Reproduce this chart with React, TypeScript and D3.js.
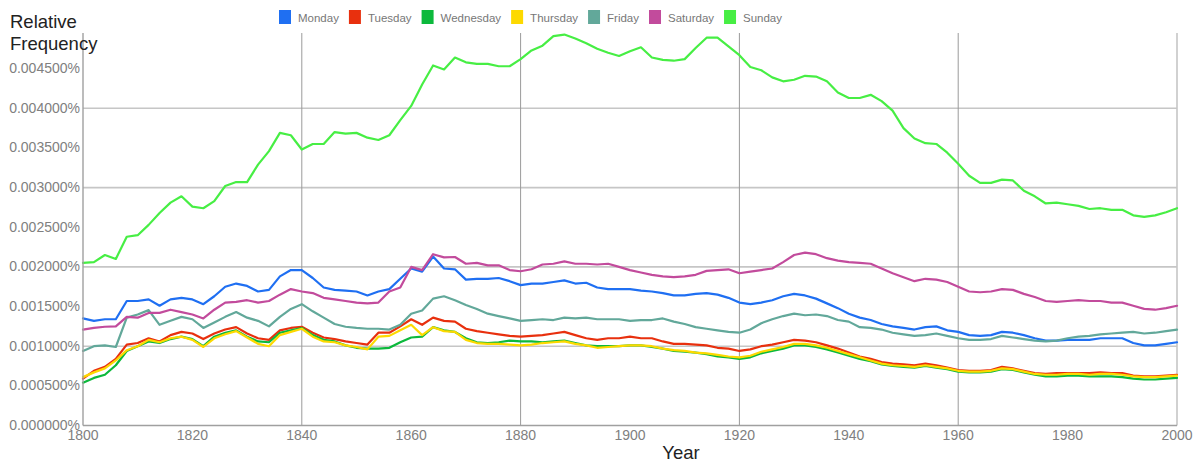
import React from "react";
import * as d3 from "d3";

// Years (every 2 years)
const years: number[] = [
  1800, 1802, 1804, 1806, 1808, 1810, 1812, 1814, 1816, 1818,
  1820, 1822, 1824, 1826, 1828, 1830, 1832, 1834, 1836, 1838,
  1840, 1842, 1844, 1846, 1848, 1850, 1852, 1854, 1856, 1858,
  1860, 1862, 1864, 1866, 1868, 1870, 1872, 1874, 1876, 1878,
  1880, 1882, 1884, 1886, 1888, 1890, 1892, 1894, 1896, 1898,
  1900, 1902, 1904, 1906, 1908, 1910, 1912, 1914, 1916, 1918,
  1920, 1922, 1924, 1926, 1928, 1930, 1932, 1934, 1936, 1938,
  1940, 1942, 1944, 1946, 1948, 1950, 1952, 1954, 1956, 1958,
  1960, 1962, 1964, 1966, 1968, 1970, 1972, 1974, 1976, 1978,
  1980, 1982, 1984, 1986, 1988, 1990, 1992, 1994, 1996, 1998,
  2000,
];

// Values in thousandths of a percent (1.35 => 0.001350%)
const monday: number[] = [
  1.35, 1.32, 1.34, 1.34, 1.57, 1.57, 1.59, 1.51, 1.59, 1.61,
  1.59, 1.53, 1.63, 1.75, 1.79, 1.76, 1.69, 1.71, 1.88, 1.96,
  1.96, 1.86, 1.74, 1.71, 1.70, 1.69, 1.64, 1.69, 1.72, 1.85,
  1.98, 1.94, 2.13, 1.98, 1.97, 1.84, 1.85, 1.85, 1.86, 1.82,
  1.77, 1.79, 1.79, 1.81, 1.83, 1.79, 1.80, 1.74, 1.72, 1.72,
  1.72, 1.70, 1.69, 1.67, 1.64, 1.64, 1.66, 1.67, 1.65, 1.61,
  1.55, 1.53, 1.55, 1.58, 1.63, 1.66, 1.64, 1.60, 1.54, 1.48,
  1.41, 1.36, 1.33, 1.28, 1.25, 1.23, 1.21, 1.24, 1.25, 1.20,
  1.18, 1.14, 1.13, 1.14, 1.18, 1.17, 1.14, 1.10, 1.07, 1.07,
  1.08, 1.08, 1.08, 1.10, 1.10, 1.10, 1.04, 1.01, 1.01, 1.03,
  1.05,
];
const tuesday: number[] = [
  0.59, 0.69, 0.74, 0.84, 1.02, 1.04, 1.10, 1.06, 1.14, 1.18,
  1.16, 1.09, 1.16, 1.21, 1.24, 1.16, 1.10, 1.08, 1.20, 1.23,
  1.245, 1.17, 1.11, 1.09, 1.06, 1.04, 1.02, 1.17, 1.17, 1.25,
  1.34, 1.27, 1.36, 1.32, 1.31, 1.22, 1.19, 1.17, 1.15, 1.13,
  1.12, 1.13, 1.14, 1.16, 1.18, 1.14, 1.10, 1.08, 1.10, 1.10,
  1.12, 1.10, 1.10, 1.06, 1.03, 1.03, 1.02, 1.01, 0.98, 0.97,
  0.94, 0.96, 1.00, 1.02, 1.05, 1.08, 1.07, 1.05, 1.01, 0.97,
  0.92, 0.87, 0.84, 0.80, 0.78, 0.77, 0.76, 0.78, 0.76, 0.73,
  0.70, 0.69, 0.69, 0.70, 0.74, 0.72, 0.69, 0.66, 0.65, 0.66,
  0.66, 0.66, 0.66, 0.67, 0.66, 0.66, 0.63, 0.62, 0.62, 0.63,
  0.64,
];
const wednesday: number[] = [
  0.54, 0.60, 0.64, 0.76, 0.94, 1.00, 1.06, 1.04, 1.09, 1.12,
  1.09, 1.00, 1.12, 1.17, 1.20, 1.12, 1.06, 1.05, 1.17, 1.20,
  1.23, 1.14, 1.08, 1.06, 1.01, 0.98, 0.97, 0.97, 0.98, 1.05,
  1.11, 1.12, 1.24, 1.20, 1.18, 1.10, 1.05, 1.04, 1.05, 1.07,
  1.06, 1.06, 1.05, 1.06, 1.07, 1.04, 1.01, 1.00, 1.00, 1.00,
  1.01, 1.01, 0.99, 0.97, 0.94, 0.93, 0.92, 0.90, 0.87, 0.86,
  0.84, 0.86, 0.91, 0.94, 0.97, 1.01, 1.01, 0.99, 0.96, 0.92,
  0.88, 0.84, 0.81, 0.77, 0.75, 0.74, 0.73, 0.75, 0.73, 0.71,
  0.68, 0.67, 0.67, 0.68, 0.71, 0.70, 0.67, 0.64, 0.62, 0.62,
  0.63, 0.63, 0.62, 0.62, 0.62, 0.61, 0.59, 0.58, 0.58, 0.59,
  0.60,
];
const thursday: number[] = [
  0.61, 0.67, 0.72, 0.82, 0.95, 1.00, 1.08, 1.05, 1.10, 1.12,
  1.08, 0.99, 1.10, 1.15, 1.19, 1.11, 1.03, 1.00, 1.14, 1.18,
  1.22, 1.12, 1.06, 1.05, 1.01, 0.99, 0.96, 1.12, 1.13, 1.20,
  1.27, 1.14, 1.24, 1.19, 1.18, 1.08, 1.04, 1.03, 1.03, 1.02,
  1.01, 1.02, 1.04, 1.05, 1.06, 1.03, 1.01, 0.98, 0.99, 1.00,
  1.01, 1.01, 1.00, 0.97, 0.95, 0.94, 0.92, 0.91, 0.89, 0.87,
  0.86, 0.88, 0.93, 0.96, 0.99, 1.03, 1.03, 1.01, 0.98, 0.94,
  0.90, 0.86, 0.82, 0.78, 0.76, 0.75, 0.74, 0.76, 0.74, 0.72,
  0.69, 0.68, 0.68, 0.69, 0.72, 0.71, 0.68, 0.65, 0.64, 0.64,
  0.65, 0.65, 0.64, 0.65, 0.65, 0.64, 0.62, 0.61, 0.61, 0.62,
  0.63,
];
const friday: number[] = [
  0.94, 1.00, 1.01, 0.99, 1.36, 1.40, 1.455, 1.27, 1.32, 1.37,
  1.34, 1.23, 1.30, 1.37, 1.43, 1.36, 1.32, 1.25, 1.37, 1.47,
  1.53, 1.44, 1.36, 1.28, 1.245, 1.23, 1.22, 1.22, 1.21, 1.27,
  1.41, 1.45, 1.60, 1.63, 1.58, 1.52, 1.47, 1.41, 1.38, 1.35,
  1.32, 1.33, 1.34, 1.33, 1.36, 1.35, 1.36, 1.34, 1.34, 1.34,
  1.32, 1.33, 1.33, 1.35, 1.31, 1.28, 1.24, 1.22, 1.20, 1.18,
  1.17, 1.21, 1.29, 1.34, 1.38, 1.41, 1.39, 1.40, 1.38, 1.33,
  1.31, 1.24, 1.23, 1.21, 1.17, 1.15, 1.13, 1.14, 1.16, 1.13,
  1.10, 1.08, 1.08, 1.09, 1.13, 1.11, 1.09, 1.07, 1.06, 1.07,
  1.10, 1.12, 1.13, 1.15, 1.16, 1.17, 1.18, 1.16, 1.17, 1.19,
  1.21,
];
const saturday: number[] = [
  1.21, 1.23, 1.245, 1.25, 1.37, 1.36, 1.42, 1.42, 1.46, 1.43,
  1.40, 1.35, 1.46, 1.55, 1.56, 1.58, 1.55, 1.57, 1.65, 1.72,
  1.69, 1.67, 1.61, 1.59, 1.57, 1.55, 1.54, 1.55, 1.69, 1.74,
  2.00, 1.96, 2.16, 2.12, 2.125, 2.04, 2.05, 2.02, 2.02, 1.96,
  1.945, 1.97, 2.03, 2.04, 2.07, 2.04, 2.04, 2.03, 2.04, 2.00,
  1.96, 1.93, 1.90, 1.88, 1.87, 1.88, 1.90, 1.95, 1.96, 1.97,
  1.92, 1.94, 1.96, 1.98, 2.06, 2.15, 2.18, 2.16, 2.11, 2.08,
  2.06, 2.05, 2.04, 1.98, 1.92, 1.87, 1.82, 1.85, 1.84, 1.81,
  1.75, 1.69, 1.68, 1.69, 1.72, 1.71, 1.66, 1.62, 1.57, 1.56,
  1.57, 1.58, 1.57, 1.57, 1.55, 1.55, 1.51, 1.47, 1.46, 1.48,
  1.51,
];
const sunday: number[] = [
  2.05, 2.06, 2.15, 2.10, 2.38, 2.40, 2.53, 2.68, 2.81, 2.89,
  2.76, 2.74, 2.83, 3.02, 3.07, 3.07, 3.29, 3.46, 3.69, 3.66,
  3.48, 3.55, 3.55, 3.70, 3.68, 3.69, 3.63, 3.60, 3.66, 3.85,
  4.03, 4.30, 4.54, 4.49, 4.64, 4.58, 4.56, 4.56, 4.53, 4.53,
  4.62, 4.73, 4.79, 4.91, 4.93, 4.88, 4.82, 4.75, 4.70, 4.66,
  4.72, 4.77, 4.64, 4.61, 4.60, 4.62, 4.76, 4.89, 4.89, 4.78,
  4.67, 4.52, 4.48, 4.39, 4.34, 4.36, 4.41, 4.40, 4.34, 4.20,
  4.13, 4.13, 4.17, 4.09, 3.97, 3.75, 3.62, 3.56, 3.55, 3.44,
  3.30, 3.15, 3.06, 3.06, 3.10, 3.09, 2.96, 2.89, 2.80, 2.81,
  2.79, 2.77, 2.73, 2.74, 2.72, 2.72, 2.65, 2.63, 2.65, 2.69,
  2.74,
];

const seriesNames: string[] = ["Monday", "Tuesday", "Wednesday", "Thursday", "Friday", "Saturday", "Sunday"];
const seriesValues: number[][] = [monday, tuesday, wednesday, thursday, friday, saturday, sunday];
const seriesColors: string[] = ["#1f6ff2", "#e8300e", "#0cb93c", "#fdd900", "#62a89a", "#c24b9c", "#47ee44"];

const yTicks: number[] = [0, 0.5, 1, 1.5, 2, 2.5, 3, 3.5, 4, 4.5];
const yGrid: number[] = [1, 2, 3, 4];
const xTicks: number[] = [1800, 1820, 1840, 1860, 1880, 1900, 1920, 1940, 1960, 1980, 2000];
const xGrid: number[] = [1840, 1880, 1920, 1960];

const W = 1197;
const H = 462;
const left = 83;
const right = 1177;
const bottom = 425.5;
const frameTop = 33;
const FONT = "'Liberation Sans', Arial, sans-serif";

function measure(text: string, font: string): number {
  if (typeof document === "undefined") return text.length * 7;
  const c = document.createElement("canvas");
  const ctx = c.getContext("2d");
  if (!ctx) return text.length * 7;
  ctx.font = font;
  return ctx.measureText(text).width;
}

export default function App() {
  const x = d3.scaleLinear().domain([1800, 2000]).range([left, right]);
  const y = d3.scaleLinear().domain([0, 5]).range([bottom, bottom - 5 * 79.3]);
  const line = d3
    .line<number>()
    .x((_, i) => x(years[i]))
    .y((d) => y(d))
    .curve(d3.curveLinear);
  const fmtY = (v: number) => (v * 0.001).toFixed(6) + "%";

  // legend layout
  const legendSize = 11.5;
  const legendFont = `${legendSize}px ${FONT}`;
  let lx = 279;
  const legendItems = seriesNames.map((name, i) => {
    const w = measure(name, legendFont);
    const item = { name, color: seriesColors[i], x: lx, w };
    lx += 12 + 7 + w + 10;
    return item;
  });

  return (
    <svg
      width={W}
      height={H}
      style={{ position: "absolute", left: 0, top: 0, background: "#fff" }}
      fontFamily={FONT}
    >
      <rect x={0} y={0} width={W} height={H} fill="#fff" />
      {yGrid.map((v) => (
        <line key={"hg" + v} x1={left} x2={right} y1={y(v)} y2={y(v)} stroke="#c6c6c6" strokeWidth={1.6} />
      ))}
      {xGrid.map((v) => (
        <line key={"vg" + v} x1={x(v)} x2={x(v)} y1={frameTop} y2={bottom} stroke="#9a9a9a" strokeWidth={1} />
      ))}
      <line x1={right} x2={right} y1={frameTop} y2={bottom} stroke="#c6c6c6" strokeWidth={1.6} />
      {seriesValues.map((vals, i) => (
        <path
          key={seriesNames[i]}
          d={line(vals) || ""}
          fill="none"
          stroke={seriesColors[i]}
          strokeWidth={2.2}
          strokeLinejoin="round"
          strokeLinecap="round"
        />
      ))}
      <line x1={left} x2={left} y1={frameTop} y2={bottom} stroke="#a0a0a0" strokeWidth={1.4} />
      <line x1={left} x2={right} y1={bottom} y2={bottom} stroke="#a0a0a0" strokeWidth={1.4} />
      {yTicks.map((v) => (
        <text key={"yt" + v} x={80} y={y(v) + 4.5} textAnchor="end" fontSize={14} fill="#808080">
          {fmtY(v)}
        </text>
      ))}
      {xTicks.map((v) => (
        <text key={"xt" + v} x={x(v)} y={440} textAnchor="middle" fontSize={14} fill="#808080">
          {v}
        </text>
      ))}
      <text x={681} y={459} textAnchor="middle" fontSize={18.5} fill="#222">
        Year
      </text>
      <text x={10} y={28} fontSize={18.5} fill="#222">
        Relative
      </text>
      <text x={10} y={50} fontSize={18.5} fill="#222">
        Frequency
      </text>
      {legendItems.map((it) => (
        <g key={"lg" + it.name}>
          <rect x={it.x} y={10} width={12} height={14} fill={it.color} />
          <text x={it.x + 19} y={21.5} fontSize={legendSize} fill="#777">
            {it.name}
          </text>
        </g>
      ))}
    </svg>
  );
}
